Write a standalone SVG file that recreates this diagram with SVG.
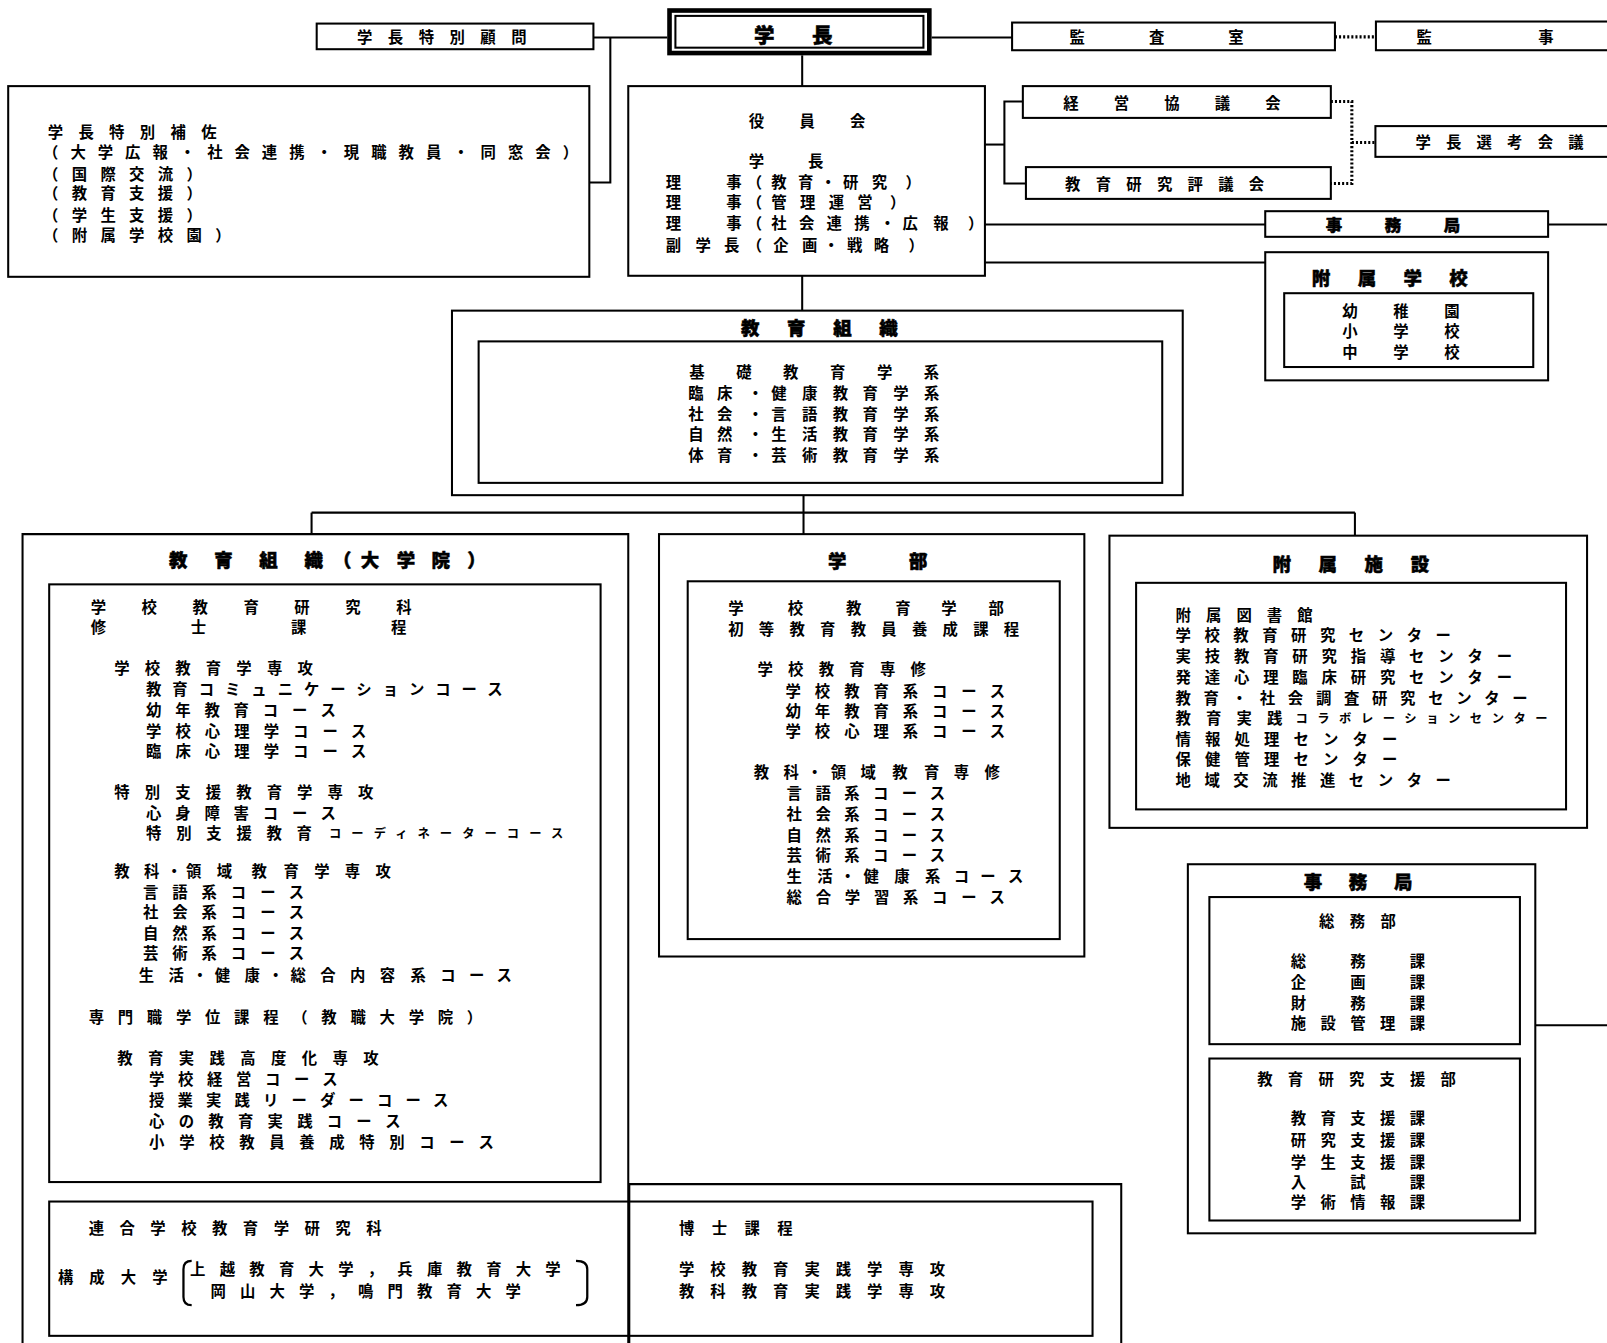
<svg xmlns="http://www.w3.org/2000/svg" width="1607" height="1343" viewBox="0 0 1607 1343">
<style>
text { font-family: "Noto Sans CJK JP", "Noto Sans CJK SC", sans-serif; font-size: 15px; font-weight: 700; fill: #000; }
.t { font-size: 18px; font-weight: 900; stroke: #000; stroke-width: 0.5; }
.s { font-size: 12px; }
.m { text-anchor: middle; }
.box { fill: #fff; stroke: #000; stroke-width: 2; }
.open { fill: none; stroke: #000; stroke-width: 2; }
.ln { fill: none; stroke: #000; stroke-width: 2; }
.dot { fill: none; stroke: #000; stroke-width: 3; stroke-dasharray: 2 2; }
.br { fill: none; stroke: #000; stroke-width: 2.2; }
</style>
<rect x="0" y="0" width="1607" height="1343" fill="#fff"/>
<g transform="scale(1.0249 1.0252)">
<g id="connectors">
<path class="ln" d="M579,36.5 H651"/>
<path class="ln" d="M595.5,36.5 V178 H575"/>
<path class="ln" d="M909,36.5 H987.5"/>
<path class="dot" d="M1302.5,36 H1342.5"/>
<path class="ln" d="M782.7,54 V84"/>
<path class="ln" d="M961,141 H980"/>
<path class="ln" d="M998,99 H980 V179 H1001"/>
<path class="dot" d="M1298.5,99 H1319 V179 H1298.5"/>
<path class="dot" d="M1319,139 H1342"/>
<path class="ln" d="M961,219 H1234.5"/>
<path class="ln" d="M1510.5,219 H1572"/>
<path class="ln" d="M961,256 H1234.5"/>
<path class="ln" d="M782.7,269 V303"/>
<path class="ln" d="M784,483 V521"/>
<path class="ln" d="M304,500 H1322"/>
<path class="ln" d="M304,500 V521"/>
<path class="ln" d="M1322,500 V522.5"/>
<path class="ln" d="M1498,1000 H1572"/>
</g>

<g id="gakucho">
<rect x="651" y="8" width="258" height="46" fill="#000"/>
<rect x="655.5" y="12.5" width="249" height="37" fill="#fff"/>
<rect x="659" y="15.5" width="242" height="31" fill="none" stroke="#000" stroke-width="2"/>
<text class="t" x="735.7" y="41.6" style="font-size:20px" letter-spacing="36.6">学長</text>
</g>

<g id="komon">
<rect class="box" x="309" y="23" width="270" height="25"/>
<text x="348.3" y="41.9" letter-spacing="15.1">学長特別顧問</text>
</g>

<g id="hosa">
<rect class="box" x="8" y="84" width="567" height="186"/>
<text x="46.5" y="134.5" letter-spacing="15">学長特別補佐</text>
<text x="42" y="154.5" letter-spacing="11.7">（大学広報・社会連携・現職教員・同窓会）</text>
<text x="42" y="175.5" letter-spacing="13">（国際交流）</text>
<text x="42" y="194.5" letter-spacing="13">（教育支援）</text>
<text x="42" y="215.5" letter-spacing="13">（学生支援）</text>
<text x="42" y="235.5" letter-spacing="13">（附属学校園）</text>
</g>

<g id="yakuinkai">
<rect class="box" x="613" y="84" width="348" height="185"/>
<text x="730.5" y="123.5" letter-spacing="34.5">役員会</text>
<text x="730.5" y="163" letter-spacing="43">学長</text>
<text class="m" x="657 716 736 760 786 808 830 858 891" y="183">理事（教育・研究）</text>
<text class="m" x="657 716 736 760 788 816 844 876" y="203">理事（管理運営）</text>
<text class="m" x="657 716 736 760 787 814 841 866 888 918 952" y="223">理事（社会連携・広報）</text>
<text class="m" x="657 686 714 736 762 790 811 834 860 894" y="244.5">副学長（企画・戦略）</text>
</g>

<g id="kansashitsu">
<rect class="box" x="987.5" y="22" width="315" height="27"/>
<text x="1043.5" y="41.5" letter-spacing="62.5">監査室</text>
</g>

<g id="kanji">
<rect class="box" x="1342.5" y="21" width="280" height="28"/>
<text class="m" x="1389.5 1508.5" y="41.5">監事</text>
</g>

<g id="keiei">
<rect class="box" x="998" y="84" width="300.5" height="31"/>
<text x="1037.5" y="106" letter-spacing="34.3">経営協議会</text>
</g>

<g id="hyogikai">
<rect class="box" x="1001" y="163" width="297.5" height="31"/>
<text x="1039.2" y="185.5" letter-spacing="14.9">教育研究評議会</text>
</g>

<g id="senko">
<rect class="box" x="1342" y="123" width="280" height="30"/>
<text class="m" x="1388.6 1418.4 1448.2 1478 1507.8 1537.6" y="144.5">学長選考会議</text>
</g>

<g id="jimukyoku-top">
<rect class="box" x="1234.5" y="206" width="276" height="25"/>
<text class="t" x="1293.6" y="225.5" style="font-size:16px" letter-spacing="41.5">事務局</text>
</g>

<g id="fuzoku-gakko">
<rect class="box" x="1234.5" y="246" width="276" height="125"/>
<rect class="box" x="1253" y="286" width="243" height="72"/>
<text class="t" x="1280" y="278.2" letter-spacing="26.7">附属学校</text>
<text x="1309.7" y="309.5" letter-spacing="34.75">幼稚園</text>
<text x="1309.7" y="329" letter-spacing="34.75">小学校</text>
<text x="1309.7" y="349.6" letter-spacing="34.75">中学校</text>
</g>

<g id="kyoiku-soshiki">
<rect class="box" x="441" y="303" width="713" height="180"/>
<rect class="box" x="467" y="333" width="667" height="138"/>
<text class="t" x="723" y="326.7" letter-spacing="27">教育組織</text>
<text x="672.5" y="368.5" letter-spacing="30.8">基礎教育学系</text>
<text class="m" x="679 707 737 760 790 820 849 879 909" y="389.5">臨床・健康教育学系</text>
<text class="m" x="679 707 737 760 790 820 849 879 909" y="409.5">社会・言語教育学系</text>
<text class="m" x="679 707 737 760 790 820 849 879 909" y="429.5">自然・生活教育学系</text>
<text class="m" x="679 707 737 760 790 820 849 879 909" y="449.5">体育・芸術教育学系</text>
</g>

<g id="daigakuin">
<path class="open" d="M22,1312 V521 H613 V1312"/>
<rect class="box" x="48" y="570" width="538" height="583"/>
<text class="t m" x="174 218 262 306 334 361 396 430 465" y="552.7">教育組織（大学院）</text>
<text x="88.5" y="597.5" letter-spacing="34.7">学校教育研究科</text>
<text x="88.5" y="617.5" letter-spacing="82.7">修士課程</text>
<text x="111.5" y="657.5" letter-spacing="14.8">学校教育学専攻</text>
<text x="142.5" y="677.5" letter-spacing="10.7">教育コミュニケーションコース</text>
<text x="142.5" y="698.5" letter-spacing="13.5">幼年教育コース</text>
<text x="142.5" y="718.5" letter-spacing="13.7">学校心理学コース</text>
<text x="142.5" y="738.5" letter-spacing="13.7">臨床心理学コース</text>
<text x="111.5" y="778.5" letter-spacing="14.75">特別支援教育学専攻</text>
<text x="142.5" y="798.5" letter-spacing="13.5">心身障害コース</text>
<text x="142.5" y="818.5" letter-spacing="14.4">特別支援教育</text>
<text class="s" x="321" y="817.4" letter-spacing="9.8">コーディネーターコース</text>
<text class="m" x="119 148 170 189 219 253 284 314 344 374" y="855.5">教科・領域教育学専攻</text>
<text x="139.5" y="875.5" letter-spacing="13.6">言語系コース</text>
<text x="139.5" y="895.5" letter-spacing="13.6">社会系コース</text>
<text x="139.5" y="915.5" letter-spacing="13.6">自然系コース</text>
<text x="139.5" y="935.5" letter-spacing="13.6">芸術系コース</text>
<text class="m" x="143 172 195 217 246 269 291 320 349 378 408 437 465 492" y="956.5">生活・健康・総合内容系コース</text>
<text x="86.5" y="998" letter-spacing="13.4">専門職学位課程（教職大学院）</text>
<text x="114.5" y="1037.5" letter-spacing="15">教育実践高度化専攻</text>
<text x="145.5" y="1058.5" letter-spacing="13.3">学校経営コース</text>
<text x="145.5" y="1079" letter-spacing="12.8">授業実践リーダーコース</text>
<text x="145.5" y="1099" letter-spacing="13.9">心の教育実践コース</text>
<text x="145.5" y="1119.5" letter-spacing="14.3">小学校教員養成特別コース</text>
</g>

<g id="hakase">
<path class="open" d="M614,1312 V1155 H1094 V1312"/>
<text x="662.5" y="1204" letter-spacing="17">博士課程</text>
<text x="662.5" y="1244" letter-spacing="15.6">学校教育実践学専攻</text>
<text x="662.5" y="1265" letter-spacing="15.6">教科教育実践学専攻</text>
</g>

<g id="rengo">
<rect class="open" x="48" y="1172" width="1018" height="131"/>
<text x="86.5" y="1204" letter-spacing="15.1">連合学校教育学研究科</text>
<text x="56.5" y="1251.5" letter-spacing="15.7">構成大学</text>
<path class="br" d="M187,1230 Q179,1230 179,1238 V1265 Q179,1273 187,1273"/>
<text x="185.5" y="1244" letter-spacing="13.9">上越教育大学，兵庫教育大学</text>
<text x="205.5" y="1265.5" letter-spacing="13.8">岡山大学，鳴門教育大学</text>
<path class="br" d="M562,1230 Q573,1230 573,1238 V1265 Q573,1273 562,1273"/>
</g>

<g id="gakubu">
<rect class="box" x="643" y="521" width="415" height="412"/>
<rect class="box" x="671" y="567" width="363" height="349"/>
<text class="t" x="808" y="553.7" letter-spacing="61">学部</text>
<text class="m" x="718 776 833 881 926 972" y="598.5">学校教育学部</text>
<text x="710.5" y="619.5" letter-spacing="14.9">初等教育教員養成課程</text>
<text x="739" y="658.5" letter-spacing="14.9">学校教育専修</text>
<text x="766.5" y="679.5" letter-spacing="13.6">学校教育系コース</text>
<text x="766.5" y="699.5" letter-spacing="13.6">幼年教育系コース</text>
<text x="766.5" y="719" letter-spacing="13.6">学校心理系コース</text>
<text class="m" x="743 772 795 818 847 878 909 938 968" y="758.5">教科・領域教育専修</text>
<text x="767.5" y="779.5" letter-spacing="13.1">言語系コース</text>
<text x="767.5" y="800" letter-spacing="13.1">社会系コース</text>
<text x="767.5" y="820" letter-spacing="13.1">自然系コース</text>
<text x="767.5" y="840" letter-spacing="13.1">芸術系コース</text>
<text class="m" x="775 805 827 850 880 910 938 964 991" y="860.5">生活・健康系コース</text>
<text x="767.5" y="880.5" letter-spacing="13.4">総合学習系コース</text>
</g>

<g id="fuzoku-shisetsu">
<rect class="box" x="1082.5" y="522.5" width="466" height="285"/>
<rect class="box" x="1108.5" y="568.5" width="419.5" height="221"/>
<text class="t" x="1241.5" y="557" letter-spacing="27">附属施設</text>
<text x="1147" y="605.5" letter-spacing="14.7">附属図書館</text>
<text x="1147" y="625.5" letter-spacing="13.2">学校教育研究センター</text>
<text x="1147" y="646" letter-spacing="13.5">実技教育研究指導センター</text>
<text x="1147" y="666.5" letter-spacing="13.5">発達心理臨床研究センター</text>
<text x="1147" y="686.5" letter-spacing="12.4">教育・社会調査研究センター</text>
<text x="1147" y="706.5" letter-spacing="14.8">教育実践</text>
<text class="s" x="1264" y="705.4" letter-spacing="9.3">コラボレーションセンター</text>
<text x="1147" y="726.5" letter-spacing="13.8">情報処理センター</text>
<text x="1147" y="746.5" letter-spacing="13.8">保健管理センター</text>
<text x="1147" y="766.5" letter-spacing="13.2">地域交流推進センター</text>
</g>

<g id="jimukyoku">
<rect class="box" x="1159" y="843" width="339" height="360"/>
<rect class="box" x="1180" y="875" width="303" height="143.5"/>
<rect class="box" x="1180" y="1032.5" width="303" height="158"/>
<text class="t" x="1272" y="867" letter-spacing="26.1">事務局</text>
<text x="1287" y="904" letter-spacing="15">総務部</text>
<text x="1259.3" y="943.2" letter-spacing="43.1">総務課</text>
<text x="1259.3" y="963.3" letter-spacing="43.1">企画課</text>
<text x="1259.3" y="983.8" letter-spacing="43.1">財務課</text>
<text x="1259.3" y="1004" letter-spacing="14.05">施設管理課</text>
<text x="1226.8" y="1058.5" letter-spacing="14.8">教育研究支援部</text>
<text x="1259.3" y="1096.7" letter-spacing="14.05">教育支援課</text>
<text x="1259.3" y="1117.8" letter-spacing="14.05">研究支援課</text>
<text x="1259.3" y="1138.9" letter-spacing="14.05">学生支援課</text>
<text x="1259.3" y="1158.4" letter-spacing="43.1">入試課</text>
<text x="1259.3" y="1178" letter-spacing="14.05">学術情報課</text>
</g>
</g>
</svg>
